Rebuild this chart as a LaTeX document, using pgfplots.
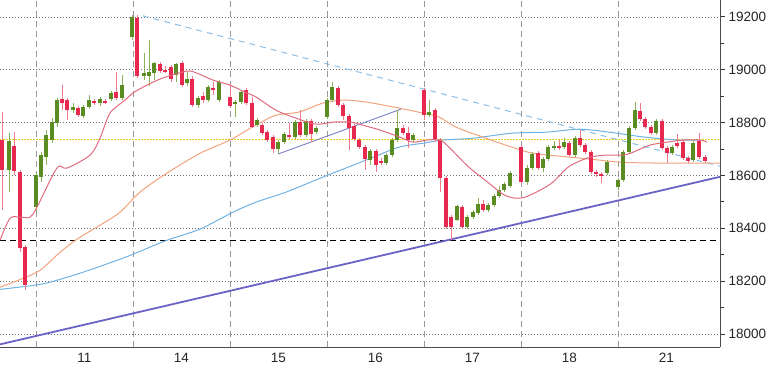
\documentclass[border=0pt]{standalone}
\usepackage{fontspec}
\setmainfont{Liberation Sans}
\usepackage{pgfplots}
\usepackage{pgfplotstable}
\pgfplotsset{compat=1.18}
\definecolor{cgreen}{HTML}{5B8C23}
\definecolor{cgreenw}{HTML}{8DB35A}
\definecolor{cred}{HTML}{E8294F}
\definecolor{credw}{HTML}{EE7A8E}
\definecolor{mapink}{HTML}{E06A7E}
\definecolor{maorange}{HTML}{F2A27E}
\definecolor{mablue}{HTML}{6FB2E4}
\definecolor{tlpurple}{HTML}{6B63C4}
\definecolor{tldash}{HTML}{8CBDE6}
\definecolor{chan}{HTML}{7A80C8}
\definecolor{ylw}{HTML}{E6CC10}

\pgfplotstableread{
x o h l c
-0.278 18620 18760 18537 18730
0.000 18480 18609 18461 18601
0.052 18594 18688 18575 18677
0.103 18669 18772 18639 18753
0.165 18734 18817 18722 18802
0.216 18798 18893 18783 18885
0.381 18847 18874 18836 18859
0.485 18825 18866 18817 18859
0.546 18859 18904 18851 18885
0.660 18874 18897 18863 18889
0.773 18889 18919 18881 18912
0.887 18893 18980 18885 18942
0.990 19124 19207 19112 19200
1.113 18976 19063 18961 18987
1.165 18976 19112 18938 18991
1.216 18987 19029 18961 19025
1.443 18980 19025 18953 19022
1.557 18950 18991 18938 18965
1.670 18866 18900 18855 18893
1.773 18885 18942 18878 18934
1.887 18885 18961 18878 18953
2.052 18870 18885 18821 18878
2.113 18878 18923 18870 18915
2.278 18791 18817 18783 18809
2.495 18700 18734 18681 18726
2.557 18726 18764 18719 18756
2.670 18745 18809 18738 18802
2.784 18753 18813 18745 18806
2.887 18764 18787 18756 18779
3.000 18821 18893 18813 18885
3.052 18885 18953 18878 18934
3.443 18658 18700 18639 18692
3.608 18647 18684 18639 18677
3.670 18677 18741 18669 18734
3.722 18734 18847 18726 18779
3.887 18734 18760 18726 18753
4.052 18828 18885 18821 18840
4.340 18431 18487 18426 18484
4.443 18404 18450 18397 18442
4.505 18442 18468 18434 18461
4.557 18457 18514 18450 18491
4.660 18468 18495 18461 18487
4.722 18487 18529 18480 18522
4.773 18522 18559 18514 18544
4.825 18544 18575 18537 18567
4.887 18559 18616 18552 18609
5.062 18575 18639 18563 18628
5.113 18628 18688 18620 18681
5.227 18628 18669 18612 18662
5.278 18662 18715 18654 18707
5.340 18707 18730 18696 18711
5.443 18707 18741 18700 18726
5.557 18677 18749 18669 18741
5.887 18609 18658 18601 18650
6.000 18556 18590 18544 18582
6.052 18582 18696 18575 18688
6.113 18688 18787 18681 18779
6.175 18779 18878 18772 18847
6.392 18760 18813 18753 18806
6.557 18684 18715 18677 18707
6.773 18658 18730 18650 18722
}\upc

\pgfplotstableread{
x o h l c
-0.351 18734 18840 18468 18620
-0.227 18711 18764 18601 18616
-0.165 18612 18620 18309 18325
-0.113 18328 18336 18166 18184
0.268 18889 18942 18847 18874
0.320 18885 18893 18809 18847
0.433 18855 18863 18821 18828
0.598 18881 18889 18866 18874
0.711 18881 18889 18870 18878
0.825 18915 18991 18885 18893
1.041 19196 19207 18968 18976
1.278 19022 19029 18987 18995
1.330 18999 19014 18987 18995
1.392 19010 19018 18953 18965
1.505 19025 19033 18934 18942
1.608 18965 18976 18859 18866
1.722 18900 18915 18874 18885
1.825 18931 18953 18904 18923
2.000 18897 18950 18855 18863
2.165 18923 18931 18866 18874
2.227 18874 18897 18779 18783
2.330 18791 18798 18753 18760
2.381 18764 18772 18726 18734
2.443 18745 18753 18684 18700
2.608 18753 18798 18738 18745
2.722 18802 18847 18745 18753
2.835 18806 18813 18726 18756
3.113 18931 18938 18859 18866
3.165 18866 18874 18809 18825
3.227 18825 18832 18696 18779
3.278 18787 18794 18730 18738
3.330 18734 18741 18700 18707
3.392 18707 18715 18620 18662
3.505 18692 18700 18612 18639
3.557 18654 18666 18639 18647
3.784 18779 18791 18753 18760
3.835 18760 18783 18703 18734
4.000 18923 18931 18809 18828
4.113 18847 18855 18726 18734
4.165 18734 18741 18537 18590
4.227 18590 18597 18397 18404
4.278 18442 18450 18355 18404
4.392 18480 18487 18397 18404
4.608 18491 18506 18461 18468
5.000 18707 18715 18567 18575
5.175 18684 18692 18620 18628
5.392 18711 18734 18696 18707
5.495 18722 18730 18669 18677
5.608 18741 18772 18707 18715
5.660 18715 18722 18681 18688
5.722 18688 18696 18605 18612
5.773 18612 18620 18594 18605
5.825 18605 18612 18571 18597
6.227 18843 18874 18806 18813
6.278 18813 18821 18775 18783
6.340 18783 18791 18753 18760
6.454 18806 18813 18696 18703
6.505 18703 18711 18647 18684
6.608 18722 18756 18703 18711
6.670 18726 18734 18658 18666
6.722 18666 18673 18647 18654
6.835 18730 18760 18662 18669
6.897 18669 18677 18647 18654
}\downc

\begin{document}
\begin{tikzpicture}
\path[use as bounding box] (0,0) rectangle (768bp,384bp);
\begin{axis}[
  scale only axis, width=720bp, height=347bp,
  at={(0bp,37bp)}, anchor=south west,
  xmin=-0.371, xmax=7.052, ymin=17951, ymax=19264,
  axis x line*=bottom, axis y line*=right,
  axis line style={draw=black!70, line width=0.9bp},
  xtick={0.5,1.5,2.5,3.5,4.5,5.5,6.5},
  xticklabels={11,14,15,16,17,18,21},
  x tick style={draw=none},
  minor x tick style={draw=none},
  minor xtick={0,1,2,3,4,5,6}, xminorgrids,
  minor grid style={black!40, dash pattern=on 6bp off 4bp, line width=0.9bp},
  ytick={18000,18200,18400,18600,18800,19000,19200},
  minor ytick={18100,18300,18500,18700,18900,19100},
  scaled y ticks=false,
  ymajorgrids,
  major grid style={black!55, dash pattern=on 1bp off 2bp, line width=0.8bp},
  y tick style={black!80, line width=1bp},
  tick align=outside, major tick length=5bp, minor tick length=4bp,
  yticklabel style={/pgf/number format/1000 sep={}, /pgf/number format/fixed},
  /pgf/number format/assume math mode=true,
  tick label style={font=\fontsize{13.5bp}{15bp}\selectfont, text=black!85},
  xticklabel style={yshift=2bp},
]
% horizontal levels
\addplot[black, dash pattern=on 6bp off 4bp, line width=1bp] coordinates {(-0.371,18355) (7.052,18355)};
\addplot[ylw, dash pattern=on 1.5bp off 1.5bp, line width=1.3bp] coordinates {(-0.371,18735) (7.052,18735)};
% trend lines
\addplot[tlpurple, line width=1.8bp] coordinates {(-0.371,17961) (7.052,18595)};
\addplot[tldash, line width=1bp, dash pattern=on 6bp off 5bp] coordinates {(1.103,19204) (7.052,18635)};
\addplot[chan, line width=0.9bp] coordinates {(2.495,18681) (3.763,18851)};
% moving averages
\addplot[mablue, line width=1bp, smooth] coordinates {
(-0.371,18169) (-0.031,18184) (0.144,18196) (0.485,18234) (0.835,18279) (1.000,18302)
(1.351,18355) (1.691,18397) (2.031,18461) (2.268,18499) (2.577,18537) (2.959,18594)
(3.402,18658) (3.742,18707) (3.990,18722) (4.196,18734) (4.505,18741) (4.907,18760)
(5.268,18764) (5.598,18775) (5.907,18764) (6.278,18745) (6.629,18734) (6.845,18734)};
\addplot[maorange, line width=1bp, smooth] coordinates {
(-0.371,18177) (-0.134,18211) (0.041,18241) (0.247,18309) (0.423,18359) (0.660,18412)
(0.866,18461) (1.072,18537) (1.351,18609) (1.691,18684) (2.000,18734) (2.268,18791)
(2.474,18828) (2.711,18840) (2.959,18874) (3.165,18885) (3.402,18878) (3.742,18855)
(3.990,18836) (4.155,18821) (4.330,18783) (4.608,18745) (4.907,18707) (5.124,18684)
(5.402,18673) (5.711,18662) (6.041,18650) (6.433,18647) (7.052,18647)};
% candles: wicks
\addplot[draw=none, mark=none, error bars/.cd, y dir=both, y explicit,
  error mark=none, error bar style={draw=cgreenw, line width=0.8bp}]
  table[x=x, y expr={(\thisrow{h}+\thisrow{l})/2}, y error expr={(\thisrow{h}-\thisrow{l})/2}] {\upc};
\addplot[draw=none, mark=none, error bars/.cd, y dir=both, y explicit,
  error mark=none, error bar style={draw=credw, line width=0.8bp}]
  table[x=x, y expr={(\thisrow{h}+\thisrow{l})/2}, y error expr={(\thisrow{h}-\thisrow{l})/2}] {\downc};
% candles: bodies
\addplot[draw=none, mark=none, error bars/.cd, y dir=both, y explicit,
  error mark=none, error bar style={draw=cgreen, line width=4.4bp}]
  table[x=x, y expr={(\thisrow{o}+\thisrow{c})/2}, y error expr={max(abs(\thisrow{c}-\thisrow{o})/2,2)}] {\upc};
\addplot[draw=none, mark=none, error bars/.cd, y dir=both, y explicit,
  error mark=none, error bar style={draw=cred, line width=4.4bp}]
  table[x=x, y expr={(\thisrow{o}+\thisrow{c})/2}, y error expr={max(abs(\thisrow{c}-\thisrow{o})/2,2)}] {\downc};
% short moving average on top
\addplot[mapink, line width=1bp, smooth] coordinates {
(-0.371,18355) (-0.268,18438) (-0.165,18442) (-0.062,18442) (0.010,18480) (0.216,18628)
(0.320,18628) (0.557,18677) (0.660,18741) (0.763,18836) (0.918,18885) (1.000,18912)
(1.144,18942) (1.309,18969) (1.557,18995) (1.660,18987) (1.825,18961) (2.000,18942)
(2.155,18915) (2.268,18897) (2.474,18847) (2.680,18817) (2.887,18794) (3.062,18802)
(3.237,18802) (3.402,18787) (3.546,18772) (3.753,18745) (3.887,18726) (4.031,18734)
(4.165,18734) (4.258,18707) (4.464,18631) (4.670,18571) (4.814,18529) (4.938,18514)
(5.041,18518) (5.196,18544) (5.330,18575) (5.474,18628) (5.577,18650) (5.711,18669)
(5.866,18677) (6.052,18677) (6.155,18688) (6.330,18715) (6.505,18726) (6.670,18734)
(6.845,18734) (6.918,18726)};
\node[font=\fontsize{13.5bp}{15bp}\selectfont, text=black!85] at (axis cs:2.99,17951) [yshift=-28bp] {Mar 2016};
\end{axis}
\end{tikzpicture}
\end{document}
